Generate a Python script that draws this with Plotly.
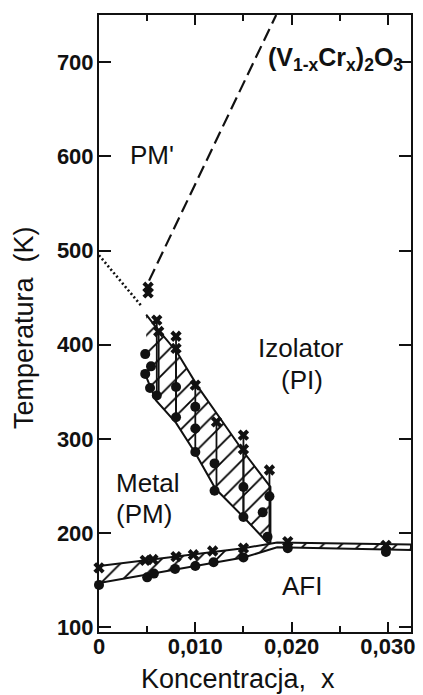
import plotly.graph_objects as go

# Metal-insulator boundary: hatched band between the upper (PI) and lower (PM) edges
pi_upper_x = [0.0049, 0.0059, 0.0081, 0.0103, 0.0127, 0.0151, 0.0178]
pi_upper_T = [432, 419, 392, 355, 320, 285, 249]
pi_lower_x = [0.0049, 0.0059, 0.0080, 0.0100, 0.0121, 0.0151, 0.0175, 0.0178]
pi_lower_T = [366, 341, 317, 285, 247, 216, 190, 190]

# measured transition points inside the PI/PM band
pi_cross_x = [0.0060, 0.0062, 0.0080, 0.0080, 0.0100, 0.0122, 0.0150, 0.0150, 0.0177]
pi_cross_T = [426, 414, 409, 396, 357, 318, 304, 289, 267]
pi_circ_x = [0.0048, 0.0048, 0.0054, 0.0053, 0.0060, 0.0080, 0.0080, 0.0100, 0.0100,
             0.0100, 0.0120, 0.0120, 0.0150, 0.0150, 0.0170, 0.0177, 0.0175]
pi_circ_T = [390, 369, 377, 354, 346, 355, 323, 334, 311, 286, 274, 245, 249, 217,
             222, 239, 196]

# PM' boundary points and lines
pmp_cross_x = [0.0051, 0.0051]
pmp_cross_T = [461, 455]
dash_x = [0.0052, 0.0184]
dash_T = [468, 750]
dot_x = [0.0, 0.0045]
dot_T = [495, 440]

# antiferromagnetic insulator (AFI) boundary band
afi_upper_x = [0.0, 0.015, 0.0185, 0.0324]
afi_upper_T = [165, 184, 190, 188]
afi_lower_x = [0.0, 0.015, 0.0185, 0.0324]
afi_lower_T = [147, 174, 185, 182]
afi_cross_x = [0.0, 0.0048, 0.0056, 0.0080, 0.0098, 0.0118, 0.0150, 0.0196, 0.0298]
afi_cross_T = [163, 171, 172, 175, 177, 181, 184, 191, 187]
afi_circ_x = [0.0, 0.0050, 0.0057, 0.0079, 0.0100, 0.0119, 0.0150, 0.0196, 0.0298]
afi_circ_T = [145, 153, 157, 162, 165, 169, 174, 184, 180]

x_tick_vals = [0, 0.01, 0.02, 0.03]
x_tick_text = ["0", "0,010", "0,020", "0,030"]
y_tick_vals = [100, 200, 300, 400, 500, 600, 700]

BLACK = "#111111"
FONT = "Liberation Sans"

fig = go.Figure()

hatch = dict(shape="/", fgcolor="black", fgopacity=1, bgcolor="white",
             size=13, solidity=0.14, fillmode="replace")

# PI/PM hatched band
band_x = pi_upper_x + pi_lower_x[::-1]
band_T = pi_upper_T + pi_lower_T[::-1]
fig.add_trace(go.Scatter(x=band_x, y=band_T, mode="lines", fill="toself",
                         fillpattern=hatch, fillcolor="white",
                         line=dict(color=BLACK, width=2), showlegend=False))

# AFI hatched band
afi_x = afi_upper_x + afi_lower_x[::-1]
afi_T = afi_upper_T + afi_lower_T[::-1]
fig.add_trace(go.Scatter(x=afi_x, y=afi_T, mode="lines", fill="toself",
                         fillpattern=hatch, fillcolor="white",
                         line=dict(color=BLACK, width=2), showlegend=False))

# vertical stems joining each cross to the lowest circle at the same concentration
stem_x, stem_T = [], []
for cx, cT in zip(pi_cross_x, pi_cross_T):
    near = [t for x, t in zip(pi_circ_x, pi_circ_T) if abs(x - cx) < 0.0004]
    if near:
        stem_x += [cx, cx, None]
        stem_T += [cT, min(near), None]
fig.add_trace(go.Scatter(x=stem_x, y=stem_T, mode="lines",
                         line=dict(color=BLACK, width=1.8), showlegend=False))

# PM' boundaries
fig.add_trace(go.Scatter(x=dash_x, y=dash_T, mode="lines",
                         line=dict(color=BLACK, width=2.2, dash="13px,6px"),
                         showlegend=False))
fig.add_trace(go.Scatter(x=dot_x, y=dot_T, mode="lines",
                         line=dict(color=BLACK, width=2.6, dash="2px,2.5px"),
                         showlegend=False))

# markers
cross_x = pi_cross_x + pmp_cross_x + afi_cross_x
cross_T = pi_cross_T + pmp_cross_T + afi_cross_T
circ_x = pi_circ_x + afi_circ_x
circ_T = pi_circ_T + afi_circ_T
fig.add_trace(go.Scatter(x=cross_x, y=cross_T, mode="markers", cliponaxis=False,
                         marker=dict(symbol="x", size=10, color=BLACK,
                                     line=dict(width=0)),
                         showlegend=False))
fig.add_trace(go.Scatter(x=circ_x, y=circ_T, mode="markers", cliponaxis=False,
                         marker=dict(symbol="circle", size=10, color=BLACK),
                         showlegend=False))

label_font = dict(family=FONT, size=26, color=BLACK)
labels = [
    (0.0055, 601, "PM'", "center"),
    (0.0210, 396, "Izolator", "center"),
    (0.0211, 362, "(PI)", "center"),
    (0.0016, 253, "Metal", "left"),
    (0.0016, 220, "(PM)", "left"),
    (0.0211, 144, "AFI", "center"),
]
for x, y, t, anchor in labels:
    fig.add_annotation(x=x, y=y, text=t, showarrow=False, xanchor=anchor,
                       yanchor="middle", font=label_font)

fig.add_annotation(x=0.01733, y=703,
                   text="<b>(V<sub>1-x</sub>Cr<sub>x</sub>)<sub>2</sub>O<sub>3</sub></b>",
                   showarrow=False, xanchor="left", yanchor="middle",
                   font=dict(family=FONT, size=25, color=BLACK))

# axis titles
fig.add_annotation(xref="paper", yref="paper", x=(240 - 99) / 316, y=-(679 - 632) / 617,
                   text="Koncentracja,  x", showarrow=False, xanchor="center",
                   yanchor="middle", font=dict(family=FONT, size=27, color=BLACK))
fig.add_annotation(xref="paper", yref="paper", x=-(99 - 23) / 316, y=(632 - 327) / 617,
                   text="Temperatura  (K)", textangle=-90, showarrow=False,
                   xanchor="center", yanchor="middle",
                   font=dict(family=FONT, size=27, color=BLACK))

tick_font = dict(family=FONT, size=22, color=BLACK, weight="bold")
fig.update_xaxes(range=[0, 0.0324], tickvals=x_tick_vals, ticktext=x_tick_text,
                 ticks="inside", ticklen=10, tickwidth=2, tickcolor=BLACK,
                 minor=dict(dtick=0.005, tick0=0, ticks="inside", ticklen=6,
                            tickwidth=2, tickcolor=BLACK),
                 showline=True, linewidth=2, linecolor=BLACK, mirror="ticks",
                 showgrid=False, zeroline=False, tickfont=tick_font,
                 ticklabelstandoff=-6)
fig.update_yaxes(range=[95, 750], tickvals=y_tick_vals,
                 ticks="inside", ticklen=12, tickwidth=2, tickcolor=BLACK,
                 showline=True, linewidth=2, linecolor=BLACK, mirror="ticks",
                 showgrid=False, zeroline=False, tickfont=tick_font,
                 ticklabelstandoff=-1)

fig.update_layout(width=423, height=695, margin=dict(l=99, r=8, t=15, b=63),
                  paper_bgcolor="white", plot_bgcolor="white")

fig.write_html("out.html")
